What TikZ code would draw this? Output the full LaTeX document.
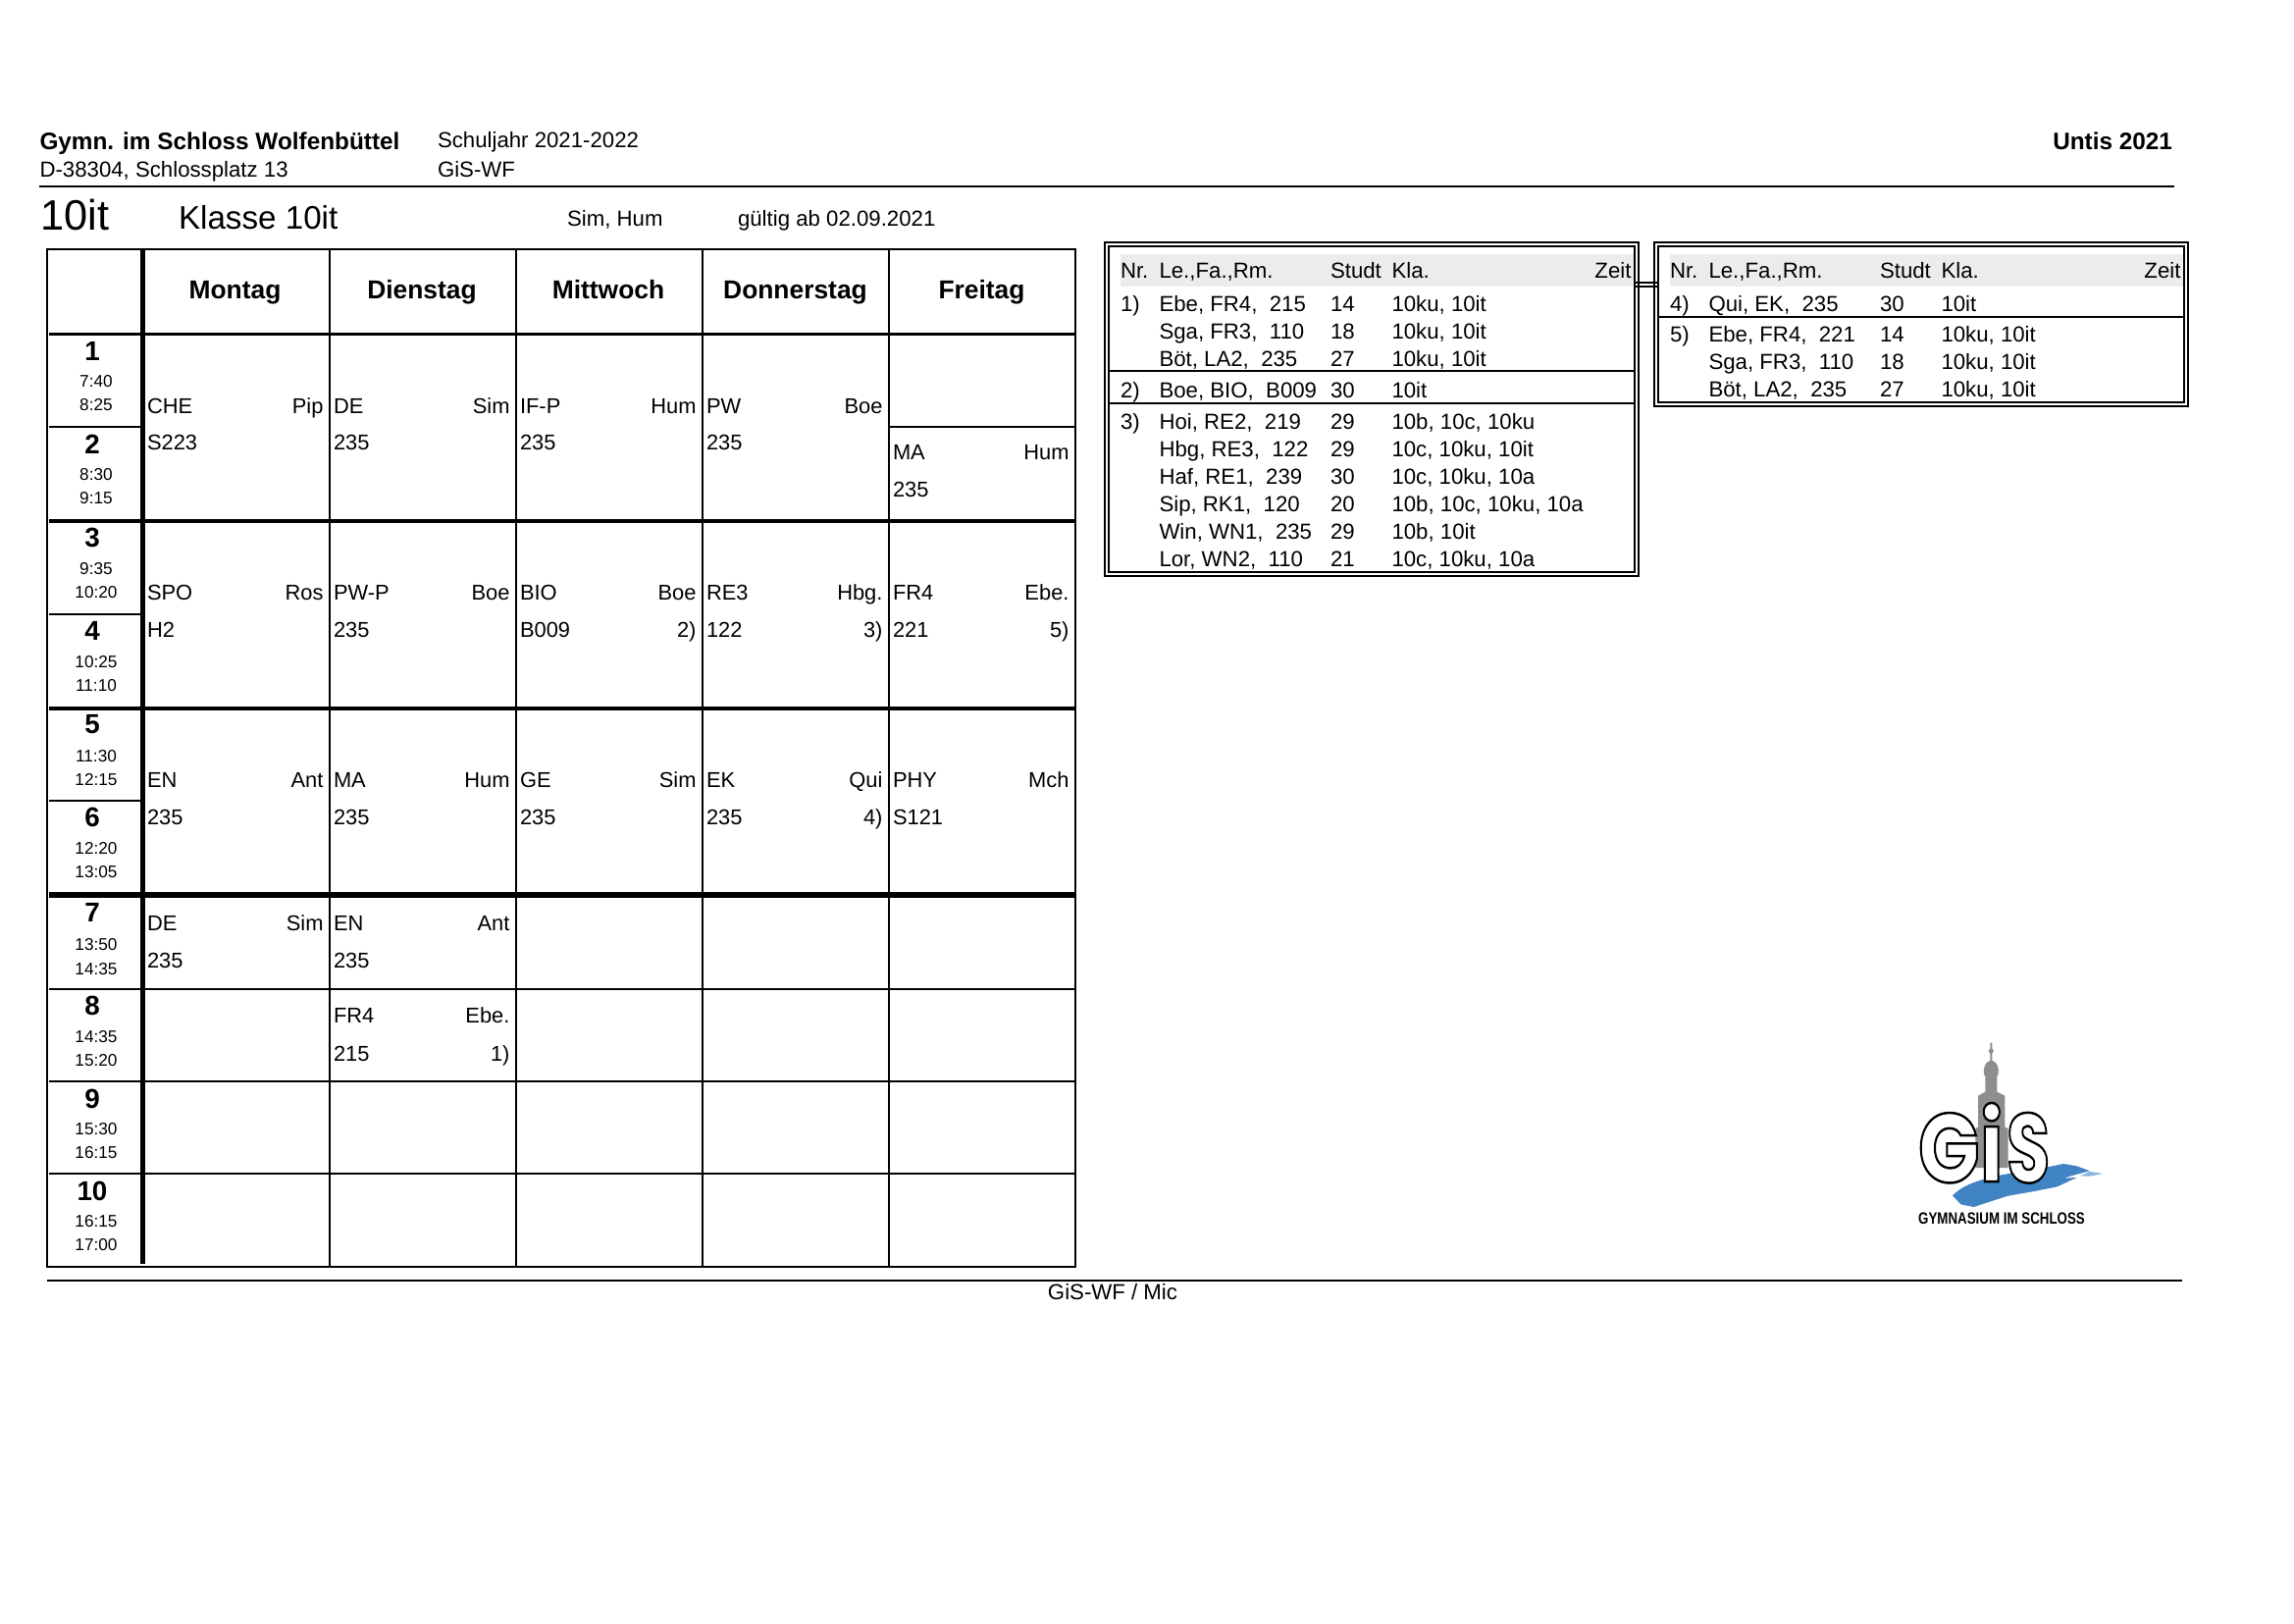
\documentclass[tikz,border=0pt]{standalone}
\usepackage{fontspec}
\setmainfont{Liberation Sans}
\newfontfamily\logofont{Poppins}
\definecolor{bandgrey}{HTML}{ECECEC}
\definecolor{towergrey}{HTML}{8E8E91}
\definecolor{brushblue}{HTML}{4184C4}
\newcounter{tn}
\newcommand{\fsz}[1]{\fontsize{#1}{#1}\selectfont}
\tikzset{
  x=0.36pt,y=-0.36pt,
  lbl/.style={inner sep=0pt,outer sep=0pt,anchor=base west},
  rbl/.style={inner sep=0pt,outer sep=0pt,anchor=base east},
  cbl/.style={inner sep=0pt,outer sep=0pt,anchor=base},
  cellfont/.style={font=\fsz{7.88}},
  listfont/.style={font=\fsz{8}},
  headfont/.style={font=\fsz{8}},
  headbold/.style={font=\fsz{8.76}\bfseries},
  dayfont/.style={font=\fsz{9.5}\bfseries},
  perfont/.style={font=\fsz{10}\bfseries},
  timefont/.style={font=\fsz{6.2}},
  logoglyph/.style={inner sep=0pt,outer sep=0pt,anchor=base west,font=\logofont\fsz{36}\bfseries},
  thinl/.style={line width=0.72pt,line cap=butt},
  midl/.style={line width=0.95pt,line cap=butt},
  thickl/.style={line width=1.25pt,line cap=butt},
  heavyl/.style={line width=1.9pt,line cap=butt},
}
\newcommand{\outlined}[1]{\special{pdf:code q 2 Tr 0.9 w 1 1 1 rg 0 0 0 RG}#1\special{pdf:code Q}}
% lesson cell: left x, right x, baseline 1, baseline 2, subject, teacher, room, note
\newcommand{\lesson}[8]{%
  \stepcounter{tn}%
  \node[lbl,cellfont] (a\thetn) at (#1+4,#3) {#5};
  \node[rbl,cellfont] (b\thetn) at (#2-6.5,#3) {#6};
  \node[lbl,cellfont] (c\thetn) at (#1+4,#4) {#7};
  \node[rbl,cellfont] (d\thetn) at (#2-6.5,#4) {#8};
}
% list line: x origin, baseline, nr, entry, studt, classes
\newcommand{\listline}[6]{%
  \stepcounter{tn}%
  \node[lbl,listfont] (e\thetn) at (#1,#2) {#3};
  \node[lbl,listfont] (f\thetn) at (#1+39.5,#2) {#4};
  \node[lbl,listfont] (g\thetn) at (#1+214,#2) {#5};
  \node[lbl,listfont] (h\thetn) at (#1+276.5,#2) {#6};
}
\newcommand{\listhead}[1]{%
  \stepcounter{tn}%
  \fill[bandgrey] (#1,259) rectangle (#1+524,292);
  \node[lbl,listfont] (e\thetn) at (#1,283) {Nr.};
  \node[lbl,listfont] (f\thetn) at (#1+39.5,283) {Le.,Fa.,Rm.};
  \node[lbl,listfont] (g\thetn) at (#1+214,283) {Studt};
  \node[lbl,listfont] (h\thetn) at (#1+276.5,283) {Kla.};
  \node[rbl,listfont] (z\thetn) at (#1+520.5,283) {Zeit};
}
\begin{document}
\begin{tikzpicture}
\useasboundingbox (0,0) rectangle (2338,1654);
\fill[white] (0,0) rectangle (2338,1654);

% page header
\node[lbl,headbold] (school) at (40.5,152) {Gymn. im Schloss Wolfenbüttel};
\node[lbl,headfont] (addr) at (40.5,180) {D-38304, Schlossplatz 13};
\node[lbl,headfont] (year) at (446,150) {Schuljahr 2021-2022};
\node[lbl,headfont] (org) at (446,180) {GiS-WF};
\node[rbl,headbold] (untis) at (2214,152) {Untis 2021};
\draw[thinl] (40,190) -- (2216,190);
\node[lbl,font=\fsz{15.6}] (short) at (41.5,234) {10it};
\node[lbl,font=\fsz{11.95}] (klasse) at (182,233.5) {Klasse 10it};
\node[lbl,headfont] (tutors) at (578,230) {Sim, Hum};
\node[lbl,headfont] (valid) at (752,230) {gültig ab 02.09.2021};

% timetable grid
\draw[thinl] (48,254) rectangle (1096,1291);
\foreach \cx in {336,526,716,906} \draw[thinl] (\cx,254) -- (\cx,1290);
\draw[line width=1.5pt] (145.5,254) -- (145.5,1288);
\draw[thickl] (50,340.5) -- (1096,340.5);
\draw[thickl] (50,531) -- (1096,531);
\draw[thickl] (50,722) -- (1096,722);
\draw[heavyl] (50,912) -- (1096,912);
\foreach \yy in {1008,1102,1196} \draw[thinl] (50,\yy) -- (1096,\yy);
\draw[midl] (336,1008) -- (526,1008);
\draw[midl] (336,1102) -- (526,1102);
\foreach \yy in {435,626,816} \draw[thinl] (50,\yy) -- (145,\yy);
\draw[thinl] (906,435) -- (1096,435);

% weekdays
\foreach \n/\cx in {Montag/239.5,Dienstag/430,Mittwoch/620,Donnerstag/810.5,Freitag/1000.5}
  \node[cbl,dayfont] (day\n) at (\cx,304) {\n};

% periods
\foreach \n/\yy in {1/367,2/462,3/557,4/652,5/747,6/842,7/939,8/1034,9/1129,10/1223}{
  \node[cbl,perfont] (per\n) at (94,\yy) {\n};
}
\foreach \n/\yy/\ta/\tb in {1/340/7:40/8:25,2/435/8:30/9:15,3/531/9:35/10:20,4/626/10:25/11:10,5/722/11:30/12:15,6/816/12:20/13:05,8/1008/14:35/15:20,9/1102/15:30/16:15,10/1196/16:15/17:00}{
  \node[cbl,timefont] (ta\n) at (98,\yy+54.5) {\ta};
  \node[cbl,timefont] (tb\n) at (98,\yy+78.5) {\tb};
}
\node[cbl,timefont] (ta7) at (98,968) {13:50};
\node[cbl,timefont] (tb7) at (98,993) {14:35};

% lessons
\lesson{146}{336}{421}{458}{CHE}{Pip}{S223}{}
\lesson{336}{526}{421}{458}{DE}{Sim}{235}{}
\lesson{526}{716}{421}{458}{IF-P}{Hum}{235}{}
\lesson{716}{906}{421}{458}{PW}{Boe}{235}{}
\lesson{906}{1096}{468}{506}{MA}{Hum}{235}{}
\lesson{146}{336}{611}{649}{SPO}{Ros}{H2}{}
\lesson{336}{526}{611}{649}{PW-P}{Boe}{235}{}
\lesson{526}{716}{611}{649}{BIO}{Boe}{B009}{2)}
\lesson{716}{906}{611}{649}{RE3}{Hbg.}{122}{3)}
\lesson{906}{1096}{611}{649}{FR4}{Ebe.}{221}{5)}
\lesson{146}{336}{802}{840}{EN}{Ant}{235}{}
\lesson{336}{526}{802}{840}{MA}{Hum}{235}{}
\lesson{526}{716}{802}{840}{GE}{Sim}{235}{}
\lesson{716}{906}{802}{840}{EK}{Qui}{235}{4)}
\lesson{906}{1096}{802}{840}{PHY}{Mch}{S121}{}
\lesson{146}{336}{948}{986}{DE}{Sim}{235}{}
\lesson{336}{526}{948}{986}{EN}{Ant}{235}{}
\lesson{336}{526}{1042}{1081}{FR4}{Ebe.}{215}{1)}

% notes, first box
\listhead{1142}
\draw[thinl] (1126,247) rectangle (1670,587);
\draw[thinl] (1130,251) rectangle (1666,583);
\draw[thinl] (1130,378) -- (1666,378);
\draw[thinl] (1130,411) -- (1666,411);
\listline{1142}{317}{1)}{Ebe, FR4,~~215}{14}{10ku, 10it}
\listline{1142}{345}{}{Sga, FR3,~~110}{18}{10ku, 10it}
\listline{1142}{373}{}{Böt, LA2,~~235}{27}{10ku, 10it}
\listline{1142}{405}{2)}{Boe, BIO,~~B009}{30}{10it}
\listline{1142}{437}{3)}{Hoi, RE2,~~219}{29}{10b, 10c, 10ku}
\listline{1142}{465}{}{Hbg, RE3,~~122}{29}{10c, 10ku, 10it}
\listline{1142}{493}{}{Haf, RE1,~~239}{30}{10c, 10ku, 10a}
\listline{1142}{521}{}{Sip, RK1,~~120}{20}{10b, 10c, 10ku, 10a}
\listline{1142}{549}{}{Win, WN1,~~235}{29}{10b, 10it}
\listline{1142}{577}{}{Lor, WN2,~~110}{21}{10c, 10ku, 10a}

% notes, second box
\listhead{1702}
\draw[thinl] (1686,247) rectangle (2230,414);
\draw[thinl] (1690,251) rectangle (2226,410);
\draw[thinl] (1690,323) -- (2226,323);
\listline{1702}{317}{4)}{Qui, EK,~~235}{30}{10it}
\listline{1702}{348}{5)}{Ebe, FR4,~~221}{14}{10ku, 10it}
\listline{1702}{376}{}{Sga, FR3,~~110}{18}{10ku, 10it}
\listline{1702}{404}{}{Böt, LA2,~~235}{27}{10ku, 10it}

% link between the boxes
\draw[line width=0.6pt] (1666,288) -- (1690,288);
\draw[line width=0.6pt] (1666,292) -- (1690,292);

% footer
\draw[thinl] (48,1305) -- (2224,1305);
\node[cbl,headfont] (footer) at (1134,1324) {GiS-WF / Mic};

% logo
\begin{scope}[shift={(1930,1050)},x=0.12pt,y=-0.12pt]
  \fill[brushblue] (180,505) .. controls (215,470) and (260,458) .. (330,442)
    -- (470,418) -- (520,408) -- (560,415) -- (600,430) -- (560,440) -- (520,452) -- (560,450)
    -- (500,478) -- (430,492) -- (350,506) -- (300,522) -- (245,540) -- (205,532) -- cycle;
  \fill[brushblue!60] (600,432) -- (640,438) -- (600,446) -- (570,445) -- cycle;
  \fill[towergrey] (295,38) -- (301,38) -- (301,56) -- (306,62) -- (301,72) -- (301,92)
    .. controls (318,98) and (322,115) .. (320,135) -- (316,140) -- (316,188) -- (340,200)
    -- (340,296) -- (350,300) -- (350,420) -- (250,420) -- (250,300) -- (258,296) -- (258,200)
    -- (280,188) -- (280,140) -- (276,135) .. controls (274,115) and (278,98) .. (295,92)
    -- (295,72) -- (290,62) -- (295,56) -- cycle;
\end{scope}
\node[logoglyph,xscale=0.82] (logoG) at (1955,1205) {\outlined{G}};
\node[logoglyph,xscale=0.8] (logoI) at (2018,1204) {\outlined{i}};
\node[logoglyph,xscale=0.72] (logoS) at (2045,1205) {\outlined{S}};
\node[cbl,font=\fsz{6}\bfseries,xscale=0.8] (logoT) at (2040,1247) {GYMNASIUM IM SCHLOSS};
\end{tikzpicture}
\end{document}
